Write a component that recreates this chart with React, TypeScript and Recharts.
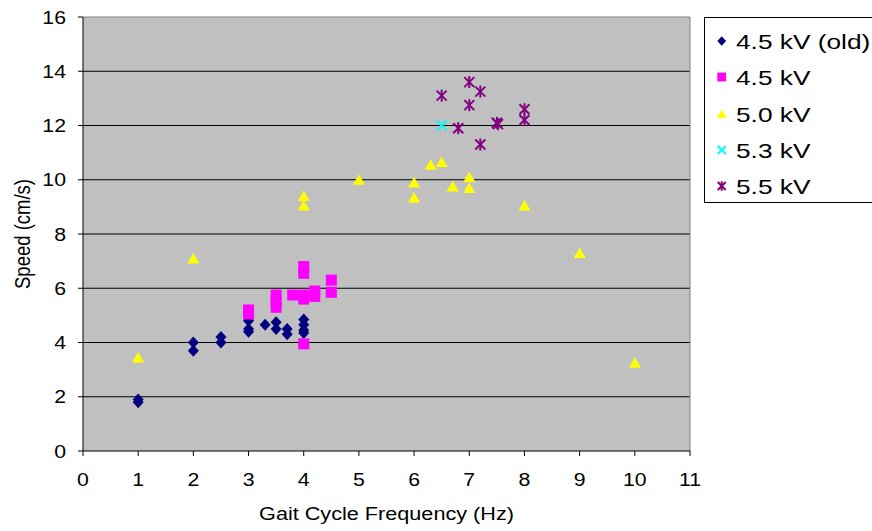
import React from 'react';
import { ScatterChart, Scatter, XAxis, YAxis, CartesianGrid, ReferenceLine, Legend, Label } from 'recharts';

const xTicks = [0, 1, 2, 3, 4, 5, 6, 7, 8, 9, 10, 11];
const yTicks = [0, 2, 4, 6, 8, 10, 12, 14, 16];

const old45X = [1, 1, 2, 2, 2.5, 2.5, 3, 3, 3, 3.3, 3.5, 3.5, 3.7, 3.7, 4, 4, 4, 4];
const old45Y = [1.9, 1.8, 4.0, 3.7, 4.2, 4.0, 4.8, 4.5, 4.4, 4.65, 4.75, 4.5, 4.5, 4.3, 4.85, 4.65, 4.45, 4.35];

const kv45X = [3, 3, 3.5, 3.5, 3.5, 3.8, 4, 4, 4, 4, 4, 4.2, 4.2, 4.5, 4.5];
const kv45Y = [5.2, 5.05, 5.75, 5.55, 5.3, 5.75, 6.8, 6.55, 5.75, 5.6, 3.95, 5.9, 5.7, 6.3, 5.85];

const kv50X = [1, 2, 4, 4, 5, 6, 6, 6.3, 6.5, 6.7, 7, 7, 8, 9, 10];
const kv50Y = [3.45, 7.1, 9.4, 9.05, 10.0, 9.9, 9.35, 10.55, 10.65, 9.75, 10.1, 9.7, 9.05, 7.3, 3.25];

const kv53X = [6.5];
const kv53Y = [12.0];

const kv55X = [6.5, 6.8, 7, 7, 7.2, 7.2, 7.5, 7.52, 8, 8];
const kv55Y = [13.1, 11.9, 13.6, 12.75, 13.25, 11.3, 12.1, 12.05, 12.6, 12.2];

const seriesNames = ['4.5 kV (old)', '4.5 kV', '5.0 kV', '5.3 kV', '5.5 kV'];
const seriesColors = ['#000080', '#FF00FF', '#FFFF00', '#00FFFF', '#800080'];

const zip = (xs: number[], ys: number[]) => xs.map((x, i) => ({ x, y: ys[i] }));

const FONT = '"Liberation Sans", Arial, sans-serif';
const SX = 1.15;
const AXIS_FS = 18.5;

const Diamond = ({ cx, cy, color, s = 1 }: any) => (
  <polygon points={`${cx},${cy - 6 * s} ${cx + 5.5 * s},${cy} ${cx},${cy + 6 * s} ${cx - 5.5 * s},${cy}`} fill={color} />
);
const Square = ({ cx, cy, color, s = 1 }: any) => (
  <rect x={cx - 5.5 * s} y={cy - 5.5 * s} width={11 * s} height={11 * s} fill={color} />
);
const Triangle = ({ cx, cy, color, s = 1 }: any) => (
  <polygon points={`${cx},${cy - 5.5 * s} ${cx + 6 * s},${cy + 5 * s} ${cx - 6 * s},${cy + 5 * s}`} fill={color} />
);
const XMark = ({ cx, cy, color, s = 1 }: any) => (
  <g stroke={color} strokeWidth={2}>
    <line x1={cx - 5 * s} y1={cy - 5 * s} x2={cx + 5 * s} y2={cy + 5 * s} />
    <line x1={cx - 5 * s} y1={cy + 5 * s} x2={cx + 5 * s} y2={cy - 5 * s} />
  </g>
);
const Star = ({ cx, cy, color, s = 1 }: any) => (
  <g stroke={color} strokeWidth={2}>
    <line x1={cx - 5 * s} y1={cy - 5 * s} x2={cx + 5 * s} y2={cy + 5 * s} />
    <line x1={cx - 5 * s} y1={cy + 5 * s} x2={cx + 5 * s} y2={cy - 5 * s} />
    <line x1={cx} y1={cy - 6 * s} x2={cx} y2={cy + 6 * s} />
  </g>
);
const markers = [Diamond, Square, Triangle, XMark, Star];

const XTick = (props: any) => {
  const { x, y, payload } = props;
  return (
    <g transform={`translate(${x},${y})`}>
      <text transform={`scale(${SX},1)`} textAnchor="middle" dy={29.6} fontSize={AXIS_FS} fontFamily={FONT} fill="#000">
        {payload.value}
      </text>
    </g>
  );
};

const YTick = (props: any) => {
  const { x, y, payload } = props;
  return (
    <g transform={`translate(${x - 12},${y})`}>
      <text transform={`scale(${SX},1)`} textAnchor="end" dy={6.6} fontSize={AXIS_FS} fontFamily={FONT} fill="#000">
        {payload.value}
      </text>
    </g>
  );
};

const XTitle = (props: any) => {
  const vb = props.viewBox;
  const cx = vb.x + vb.width / 2;
  const cy = vb.y + vb.height / 2 + 22;
  return (
    <g transform={`translate(${cx},${cy})`}>
      <text transform={`scale(1.17,1)`} textAnchor="middle" dy={6.6} fontSize={AXIS_FS} fontFamily={FONT} fill="#000">
        Gait Cycle Frequency (Hz)
      </text>
    </g>
  );
};

const YTitle = (props: any) => {
  const vb = props.viewBox;
  const cx = vb.x + vb.width / 2 - 19.5;
  const cy = vb.y + vb.height / 2;
  return (
    <g transform={`translate(${cx},${cy}) rotate(-90)`}>
      <text transform={`scale(1,${SX})`} textAnchor="middle" dy={6.6} fontSize={AXIS_FS} fontFamily={FONT} fill="#000">
        Speed (cm/s)
      </text>
    </g>
  );
};

const LegendBox = () => (
  <div
    style={{
      position: 'relative',
      width: 190,
      height: 186,
      border: '1px solid #000',
      boxSizing: 'border-box',
      background: '#fff',
      fontFamily: FONT,
    }}
  >
    {seriesNames.map((name, i) => {
      const M = markers[i];
      return (
        <div key={name} style={{ position: 'absolute', left: 0, top: 23 + i * 36.3 - 18, height: 36, width: 190 }}>
          <svg width={24} height={36} style={{ position: 'absolute', left: 5, top: 0 }}>
            <M cx={11.7} cy={18} color={seriesColors[i]} s={0.8} />
          </svg>
          <span
            style={{
              position: 'absolute',
              left: 31,
              top: 18,
              fontSize: 21,
              lineHeight: '21px',
              transform: 'translateY(-50%) scaleX(1.25)',
              transformOrigin: 'left center',
              whiteSpace: 'nowrap',
              color: '#000',
            }}
          >
            {name}
          </span>
        </div>
      );
    })}
  </div>
);

const seriesData = [
  zip(old45X, old45Y),
  zip(kv45X, kv45Y),
  zip(kv50X, kv50Y),
  zip(kv53X, kv53Y),
  zip(kv55X, kv55Y),
];

export default function App() {
  return (
    <div style={{ position: 'absolute', left: 0, top: 0, width: 872, height: 531, background: '#fff', overflow: 'hidden' }}>
      <ScatterChart width={872} height={531} margin={{ top: 17, right: 182, bottom: 0, left: 0 }}>
        <CartesianGrid fill="#C0C0C0" stroke="#000" vertical={false} horizontalValues={[2, 4, 6, 8, 10, 12, 14]} />
        <ReferenceLine y={16} stroke="#808080" />
        <ReferenceLine x={11} stroke="#808080" />
        <XAxis
          type="number"
          dataKey="x"
          domain={[0, 11]}
          ticks={xTicks}
          interval={0}
          height={80}
          stroke="#000"
          tickSize={5}
          tickMargin={0}
          tick={<XTick />}
        >
          <Label content={<XTitle />} />
        </XAxis>
        <YAxis
          type="number"
          dataKey="y"
          domain={[0, 16]}
          ticks={yTicks}
          interval={0}
          width={83}
          stroke="#000"
          tickSize={5}
          tickMargin={0}
          tick={<YTick />}
        >
          <Label content={<YTitle />} />
        </YAxis>
        <Legend
          layout="vertical"
          align="center"
          verticalAlign="middle"
          wrapperStyle={{ left: 704, top: 17, width: 190, height: 186 }}
          content={() => <LegendBox />}
        />
        {seriesData.map((d, i) => {
          const M = markers[i];
          return (
            <Scatter
              key={seriesNames[i]}
              name={seriesNames[i]}
              data={d}
              fill={seriesColors[i]}
              isAnimationActive={false}
              shape={(p: any) => <M cx={p.cx} cy={p.cy} color={seriesColors[i]} />}
            />
          );
        })}
      </ScatterChart>
    </div>
  );
}
